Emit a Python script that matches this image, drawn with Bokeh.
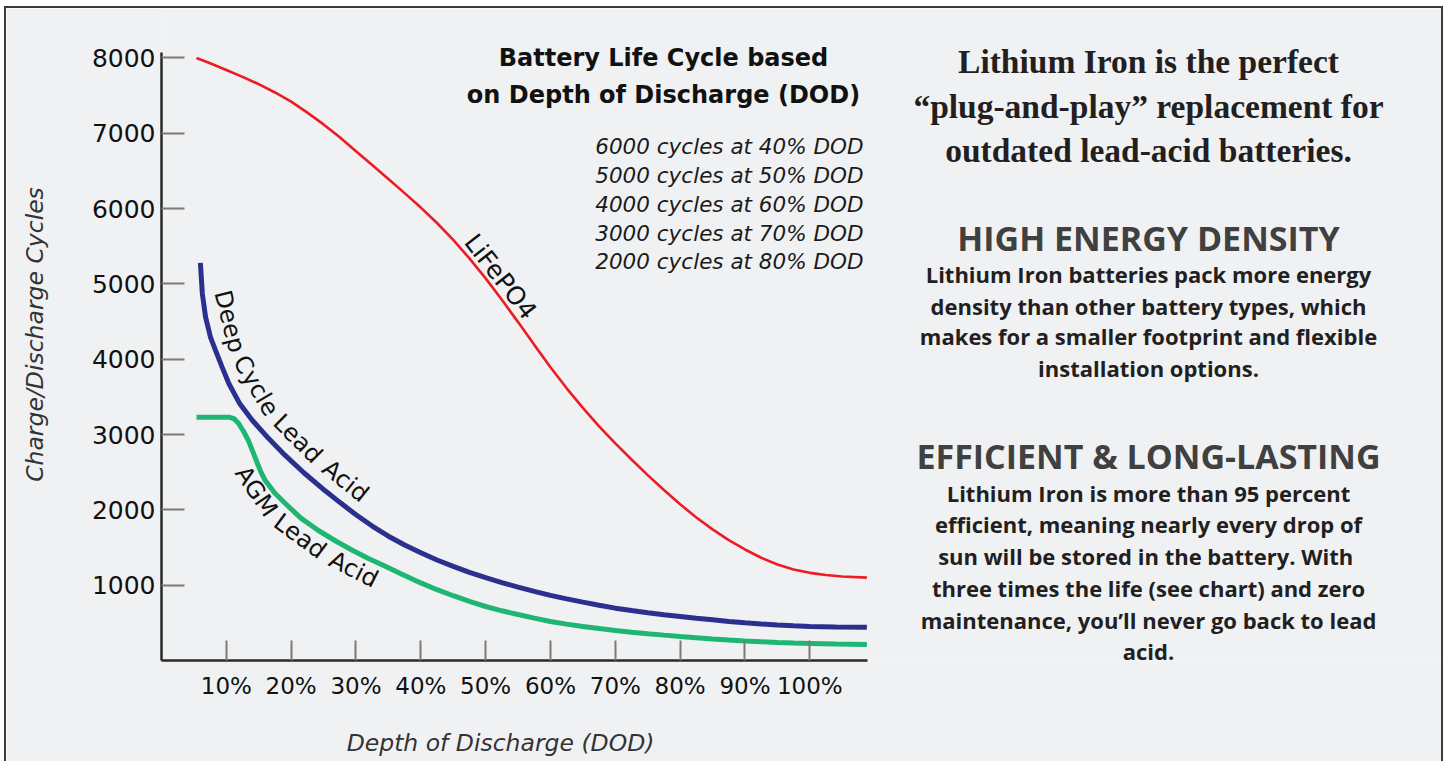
import numpy as np
from bokeh.plotting import figure
from bokeh.models import Label, FixedTicker, Range1d, LinearAxis
from bokeh.embed import file_html
from bokeh.resources import INLINE

# ---------------- data ----------------
dod_lifepo4 = [5.4, 7.5, 10, 12.5, 15, 17.5, 20, 22.5, 25, 27.5, 30, 32.5, 35, 37.5, 40,
               42.5, 45, 47.5, 50, 52.5, 55, 57.5, 60, 62.5, 65, 67.5, 70, 72.5, 75,
               77.5, 80, 82.5, 85, 87.5, 90, 92.5, 95, 97.5, 100, 102.5, 105, 108.8]
cyc_lifepo4 = [8000, 7930, 7840, 7750, 7652, 7542, 7420, 7275, 7118, 6948, 6763, 6578,
               6393, 6206, 6014, 5809, 5584, 5339, 5074, 4791, 4493, 4191, 3894, 3614,
               3354, 3109, 2884, 2669, 2461, 2264, 2074, 1899, 1741, 1599, 1474, 1364,
               1274, 1207, 1164, 1136, 1116, 1101]

dod_deep = [6.0, 6.3, 6.8, 7.55, 8.35, 9.35, 10.4, 12, 14, 16.5, 19, 22, 25.3, 27.5, 30,
            32.5, 35, 37.5, 40, 42.5, 45, 47.5, 50, 52.5, 55, 57.5, 60, 62.5, 65, 67.5,
            70, 72.5, 75, 77.5, 80, 82.5, 85, 87.5, 90, 92.5, 95, 97.5, 100, 104, 108.8]
cyc_deep = [5280, 4870, 4560, 4295, 4115, 3895, 3675, 3420, 3190, 2950, 2730, 2490, 2250,
            2100, 1935, 1785, 1650, 1533, 1430, 1335, 1250, 1170, 1100, 1035, 975, 918,
            865, 818, 775, 733, 695, 663, 635, 608, 584, 560, 540, 519, 500, 484, 470,
            460, 452, 446, 443]

dod_agm = [5.4, 8, 10.4, 11.2, 11.9, 12.6, 13.4, 14.1, 14.8, 15.4, 16.0, 17.5, 19.1, 21.5,
           24.2, 27, 29.5, 32, 34.6, 37, 40, 42.5, 45, 47.5, 50, 52.5, 55, 57.5, 60, 62.5,
           65, 67.5, 70, 72.5, 75, 77.5, 80, 82.5, 85, 87.5, 90, 92.5, 95, 97.5, 100, 104,
           108.8]
cyc_agm = [3231, 3231, 3231, 3210, 3147, 3050, 2921, 2770, 2616, 2490, 2390, 2220, 2085,
           1890, 1726, 1580, 1461, 1350, 1248, 1148, 1030, 940, 860, 785, 717, 660, 610,
           562, 518, 483, 452, 424, 398, 376, 356, 337, 319, 303, 287, 272, 259, 248, 239,
           231, 226, 218, 212]

x_ticks = [10, 20, 30, 40, 50, 60, 70, 80, 90, 100]
y_ticks = [1000, 2000, 3000, 4000, 5000, 6000, 7000, 8000]

x_title = "Depth of Discharge (DOD)"
y_title = "Charge/Discharge Cycles"
cycle_notes = ["6000 cycles at 40% DOD", "5000 cycles at 50% DOD", "4000 cycles at 60% DOD",
               "3000 cycles at 70% DOD", "2000 cycles at 80% DOD"]
title_lines = ["Battery Life Cycle based", "on Depth of Discharge (DOD)"]
intro_lines = ["Lithium Iron is the perfect", "\u201cplug-and-play\u201d replacement for",
               "outdated lead-acid batteries."]
head1 = "HIGH ENERGY DENSITY"
body1 = ["Lithium Iron batteries pack more energy", "density than other battery types, which",
         "makes for a smaller footprint and flexible", "installation options."]
head2 = "EFFICIENT & LONG-LASTING"
body2 = ["Lithium Iron is more than 95 percent", "efficient, meaning nearly every drop of",
         "sun will be stored in the battery.  With", "three times the life (see chart) and zero",
         "maintenance, you\u2019ll never go back to lead", "acid."]

# ---------------- layout (page pixels) ----------------
MX, MY, BW = 4, 6, 2                 # outer margin and border width
OX, OY = MX + BW, MY + BW            # canvas origin on the page
W, H = 1439, 755
FL, FR, FT, FB = 161, 867, 52, 660   # axis extents on the page
X_AX, Y_AX = 108.9, 8073             # data values at the axis ends
SX = (FR - FL) / X_AX
SY = (FB - FT) / Y_AX

def dx(px):
    return (px - FL) / SX

def dy(py):
    return (FB - py) / SY

BG = "#f0f1f3"
SANS = "DejaVu Sans"
SERIF = "Liberation Serif"
BODY = "Open Sans"
# how far below the anchor each font's baseline lands (fraction of the size)
BASE_SHIFT = {SANS: 0.37, SERIF: 0.36, BODY: 0.43}

p = figure(width=W, height=H,
           x_range=Range1d(0, dx(OX + W)), y_range=Range1d(0, dy(OY)),
           output_backend="svg", toolbar_location=None, title=None,
           min_border_left=FL - OX, min_border_right=0,
           min_border_top=0, min_border_bottom=H - (FB - OY))
p.background_fill_color = BG
p.border_fill_color = BG
p.outline_line_color = None
p.xgrid.visible = False
p.ygrid.visible = False
p.styles = {"margin-left": f"{MX}px", "margin-top": f"{MY}px",
            "border-top": f"{BW}px solid #3c3c3c",
            "border-left": f"{BW}px solid #3c3c3c",
            "border-right": f"{BW}px solid #3c3c3c"}

p.line(dod_lifepo4, cyc_lifepo4, line_color="#ec1c24", line_width=2.6)
p.line(dod_deep, cyc_deep, line_color="#2b2f8e", line_width=5)
p.line(dod_agm, cyc_agm, line_color="#1fb673", line_width=5)

for ax in (p.xaxis[0], p.yaxis[0]):
    ax.axis_line_color = "#2a2a2a"
    ax.axis_line_width = 2.5
    ax.major_tick_line_color = "#7a7a7a"
    ax.major_tick_line_width = 2
    ax.major_tick_out = 0
    ax.minor_tick_line_color = None
    ax.major_label_text_font = SANS
    ax.major_label_text_color = "#111111"

p.xaxis.bounds = (0, X_AX)
p.xaxis.ticker = FixedTicker(ticks=x_ticks)
p.xaxis.major_label_overrides = {t: f"{t}%" for t in x_ticks}
p.xaxis.major_label_text_font_size = "23px"
p.xaxis.major_tick_in = 20
p.xaxis.major_label_standoff = 12

p.yaxis.bounds = (0, Y_AX)
p.yaxis.ticker = FixedTicker(ticks=y_ticks)
p.yaxis.major_label_text_font_size = "25px"
p.yaxis.major_tick_in = 23
p.yaxis.major_label_standoff = 6
p.yaxis.axis_label = y_title
p.yaxis.axis_label_standoff = 40
p.yaxis.axis_label_text_font = SANS
p.yaxis.axis_label_text_font_style = "italic"
p.yaxis.axis_label_text_font_size = "23.5px"
p.yaxis.axis_label_text_color = "#333333"

# x-axis title: a label-only axis under the x axis, centred where the reference has it
XT = round(dx(500), 1)
title_axis = LinearAxis(ticker=FixedTicker(ticks=[XT]),
                        major_label_overrides={XT: x_title},
                        axis_line_color=None, major_tick_line_color=None,
                        minor_tick_line_color=None, major_label_standoff=21,
                        major_label_text_font=SANS, major_label_text_font_style="italic",
                        major_label_text_font_size="23.5px",
                        major_label_text_color="#333333")
p.add_layout(title_axis, "below")


def add(text, px, py, size, font=SANS, style="normal", color="#111111",
        align="center", angle=0.0):
    """Text whose baseline point (page pixels) is (px, py)."""
    k = BASE_SHIFT[font] * size
    a = np.radians(angle)
    px2 = px - k * np.sin(a)
    py2 = py - k * np.cos(a)
    p.add_layout(Label(x=dx(px2), y=dy(py2), text=text, text_font=font,
                       text_font_size=f"{size}px", text_font_style=style,
                       text_color=color, text_align=align, text_baseline="alphabetic",
                       angle=angle, angle_units="deg"))

# chart title and notes
for line, base in zip(title_lines, [66, 103]):
    add(line, 663, base, 24, style="bold")
for line, base in zip(cycle_notes, [154, 183, 212, 241, 269]):
    add(line, 863, base, 21.5, style="italic", color="#1a1a1a", align="right")

# ---- curve labels: words laid along each curve ----
EM = {" ": .318, "A": .684, "C": .698, "D": .770, "F": .575, "G": .775, "L": .557,
      "M": .863, "O": .787, "P": .603, "a": .613, "c": .550, "d": .635, "e": .615,
      "i": .278, "l": .278, "p": .635, "y": .592, "4": .636}


def label_along(text, dods, cycs, start_dod, offset, side, size, gap=0.318):
    d = np.linspace(dods[0], dods[-1], 4000)
    c = np.interp(d, dods, cycs)
    X = FL + d * SX
    Y = FB - c * SY
    tx, ty = np.gradient(X), np.gradient(Y)
    n = np.hypot(tx, ty)
    tx, ty = tx / n, ty / n
    OXc = X + side * offset * ty
    OYc = Y - side * offset * tx
    s = np.concatenate([[0], np.cumsum(np.hypot(np.diff(OXc), np.diff(OYc)))])
    cursor = s[np.argmin(np.abs(d - start_dod))]
    for word in text.split(" "):
        w = sum(EM.get(ch, .6) for ch in word) * size
        a = min(np.searchsorted(s, cursor), len(s) - 1)
        b = min(np.searchsorted(s, cursor + w), len(s) - 1)
        cx, cy = (OXc[a] + OXc[b]) / 2, (OYc[a] + OYc[b]) / 2
        ang = -np.degrees(np.arctan2(OYc[b] - OYc[a], OXc[b] - OXc[a]))
        add(word, cx, cy, size, angle=ang)
        cursor += w + gap * size


label_along("LiFePO4", dod_lifepo4, cyc_lifepo4, 45.8, 5, 1, 25)
label_along("Deep Cycle Lead Acid", dod_deep, cyc_deep, 6.3, 11, 1, 24, gap=0.42)
label_along("AGM Lead Acid", dod_agm, cyc_agm, 14.8, 26, -1, 24, gap=0.42)

# ---------------- right-hand text panel ----------------
CX = 1148
for line, base in zip(intro_lines, [73, 118, 162]):
    add(line, CX, base, 33.5, font=SERIF, style="bold", color="#231f20")
add(head1, CX, 252, 34, font=BODY, style="bold", color="#404040")
for line, base in zip(body1, [283, 315, 345, 377]):
    add(line, CX, base, 22, font=BODY, style="bold", color="#231f20")
add(head2, CX, 470, 34, font=BODY, style="bold", color="#404040")
for line, base in zip(body2, [502, 533, 565, 597, 629, 660]):
    add(line, CX, base, 22, font=BODY, style="bold", color="#231f20")

open("out.html", "w").write(file_html(p, INLINE))
